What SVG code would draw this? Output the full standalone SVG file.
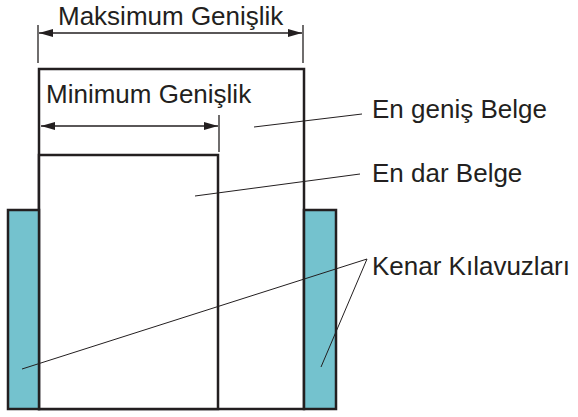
<svg xmlns="http://www.w3.org/2000/svg" width="578" height="417" viewBox="0 0 578 417">
<defs>
<style>
.doc{fill:#fff;stroke:#231f20;stroke-width:2.5}
.guide{fill:#74c2ce;stroke:#231f20;stroke-width:2.5}
.dim{stroke:#231f20;stroke-width:1.3;fill:none}
.lead{stroke:#231f20;stroke-width:1;fill:none}
.t{font-family:"Liberation Sans",Arial,sans-serif;font-size:26px;fill:#231f20}
</style>
<marker id="ah" viewBox="0 0 14 8" refX="14" refY="4" markerWidth="14" markerHeight="8" markerUnits="userSpaceOnUse" orient="auto-start-reverse">
<path d="M0,0 L14,4 L0,8 Z" fill="#231f20"/>
</marker>
</defs>
<g id="wide-doc"><rect class="doc" x="39" y="69" width="265" height="340"/></g>
<g id="narrow-doc"><rect class="doc" x="39" y="155" width="179" height="254"/></g>
<g id="left-guide"><rect class="guide" x="8" y="210" width="31" height="199"/></g>
<g id="right-guide"><rect class="guide" x="304" y="210" width="32" height="199"/></g>
<g id="max-width">
<line class="dim" x1="38" y1="25" x2="38" y2="63"/>
<line class="dim" x1="303" y1="25" x2="303" y2="63"/>
<line class="dim" x1="39" y1="33" x2="302" y2="33" marker-start="url(#ah)" marker-end="url(#ah)"/>
<text class="t" x="58" y="25">Maksimum Genişlik</text>
</g>
<g id="min-width">
<line class="dim" x1="219" y1="115" x2="219" y2="152"/>
<line class="dim" x1="41" y1="126" x2="218" y2="126" marker-start="url(#ah)" marker-end="url(#ah)"/>
<text class="t" x="46" y="103">Minimum Genişlik</text>
</g>
<g id="connectors">
<line class="lead" x1="254" y1="127" x2="362" y2="114"/>
<line class="lead" x1="195" y1="196" x2="360" y2="174"/>
<polyline class="lead" points="22,369 367,259 321,367"/>
</g>
<g id="labels">
<text class="t" x="372" y="118">En geniş Belge</text>
<text class="t" x="372" y="182">En dar Belge</text>
<text class="t" x="372" y="275">Kenar Kılavuzları</text>
</g>
</svg>
